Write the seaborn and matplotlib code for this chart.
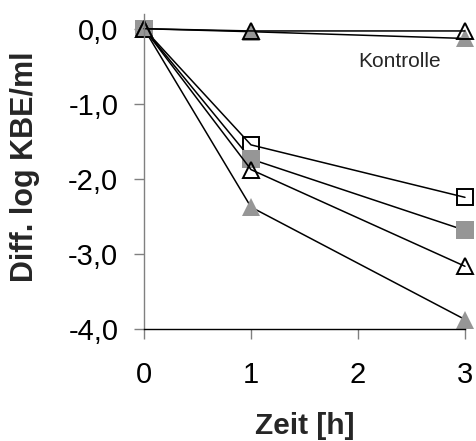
import matplotlib
matplotlib.use("Agg")
import matplotlib.pyplot as plt
import seaborn as sns
import pandas as pd

# Time points (hours) and log-reduction series
zeit = [0, 1, 3]
kontrolle_offen = [0.0, -0.03, -0.03]
kontrolle_grau = [0.0, -0.04, -0.13]
quadrat_offen = [0.0, -1.55, -2.25]
quadrat_grau = [0.0, -1.74, -2.69]
dreieck_offen = [0.0, -1.88, -3.17]
dreieck_grau = [0.0, -2.38, -3.88]

y_ticks = [0, -1, -2, -3, -4]
y_tick_labels = ["0,0", "-1,0", "-2,0", "-3,0", "-4,0"]
x_ticks = [0, 1, 2, 3]

GRAU = "#969696"

sns.set_style("ticks")
plt.rcParams["font.family"] = ["Liberation Sans", "DejaVu Sans"]

fig = plt.figure(figsize=(4.77, 4.41), dpi=100)
ax = fig.add_axes([0.3019, 0.2551, 0.6729, 0.7138])

series = [
    (quadrat_offen, "s", "none", "black", 11),
    (quadrat_grau, "s", GRAU, GRAU, 12.5),
    (dreieck_offen, "^", "none", "black", 11.5),
    (dreieck_grau, "^", GRAU, GRAU, 13),
    (kontrolle_grau, "^", GRAU, GRAU, 13),
    (kontrolle_offen, "^", "none", "black", 11.5),
]

for werte, marker, fill, edge, ms in series:
    df = pd.DataFrame({"Zeit": zeit, "Wert": werte})
    sns.lineplot(
        data=df, x="Zeit", y="Wert", ax=ax, color="black", linewidth=1.1,
        marker=marker, markersize=ms, markerfacecolor=fill,
        markeredgecolor=edge, markeredgewidth=1.4 if fill == "none" else 0,
        errorbar=None, sort=False, clip_on=False,
    )

ax.set_xlim(0, 3)
ax.set_ylim(-4, 0.2)
ax.set_xticks(x_ticks)
ax.set_xticklabels([str(t) for t in x_ticks])
ax.set_yticks(y_ticks)
ax.set_yticklabels(y_tick_labels)

for s in ["top", "right"]:
    ax.spines[s].set_visible(False)
ax.spines["left"].set_color("#808080")
ax.spines["left"].set_linewidth(1.0)
ax.spines["bottom"].set_color("black")
ax.spines["bottom"].set_linewidth(1.0)

ax.tick_params(axis="y", direction="out", length=7.5, width=1.0,
               color="#808080", labelsize=21, pad=11, labelcolor="black")
ax.tick_params(axis="x", direction="out", length=7.5, width=1.0,
               color="#808080", labelsize=21, pad=16, labelcolor="black")

ax.set_xlabel("Zeit [h]", fontsize=21.5, fontweight="bold", va="center")
ax.set_ylabel("Diff. log KBE/ml", fontsize=22, fontweight="bold", va="center")
ax.xaxis.set_label_coords(0.5, -0.31)
ax.yaxis.set_label_coords(-0.371, 0.515)

ax.text(2.39, -0.44, "Kontrolle", fontsize=15, ha="center", va="center")

fig.savefig("out.png", dpi=100)
